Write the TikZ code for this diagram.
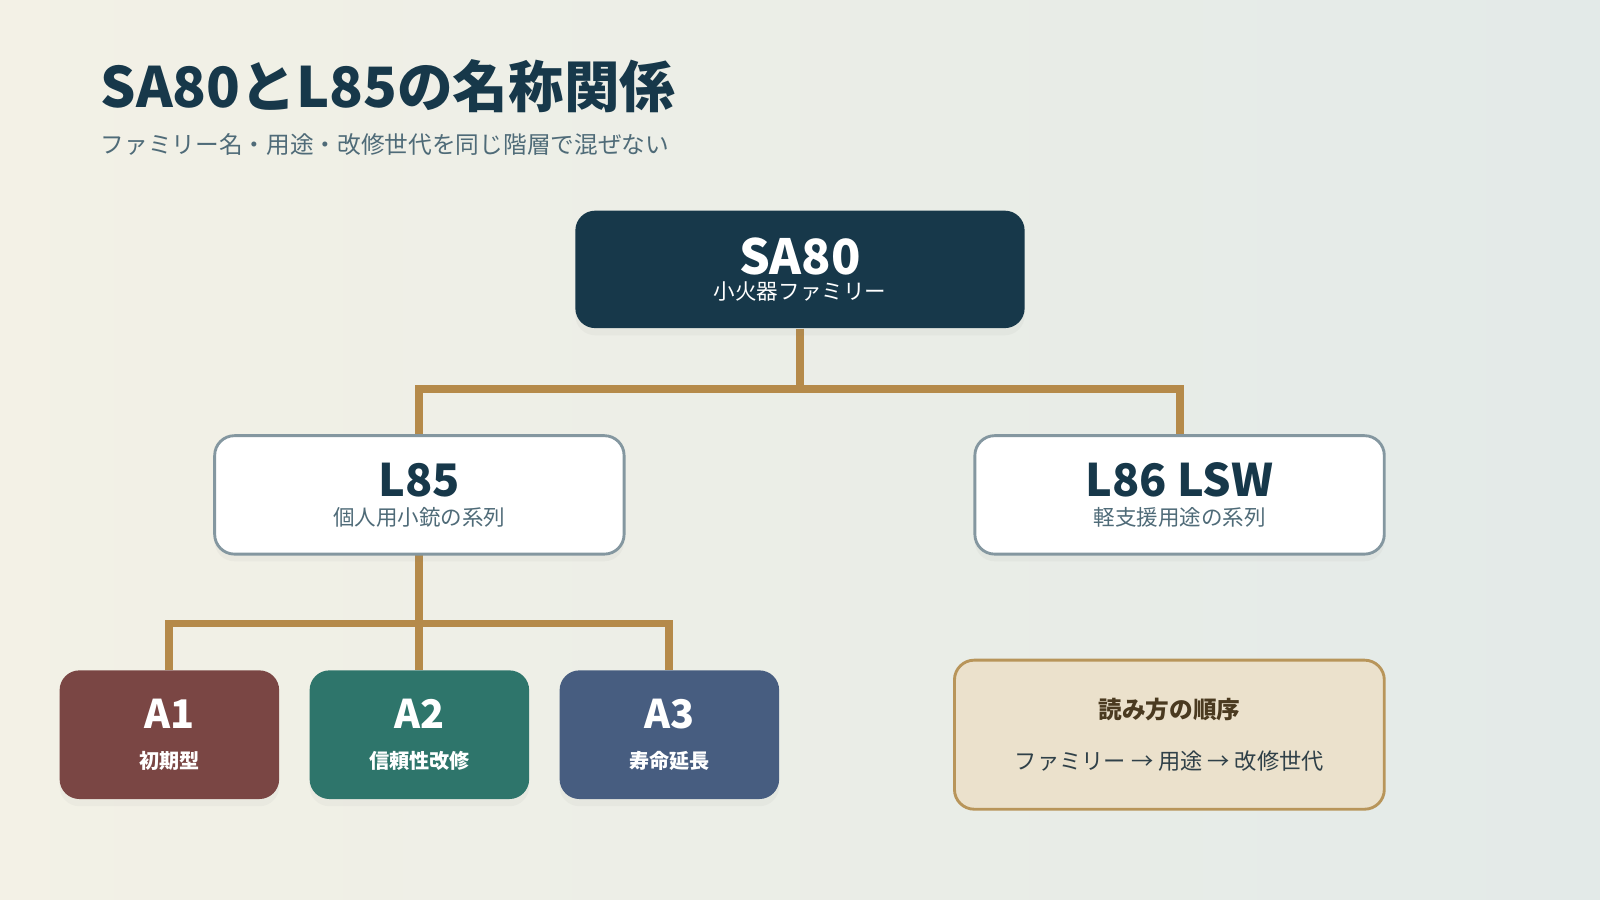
\documentclass[tikz,border=0pt]{standalone}
\usepackage{fontspec}
\setmainfont{Noto Sans CJK JP}
\usetikzlibrary{shadows}
\definecolor{navy}{HTML}{17384A}
\definecolor{gold}{HTML}{B58A4A}
\definecolor{subgray}{HTML}{4F6B78}
\definecolor{redbox}{HTML}{7A4644}
\definecolor{greenbox}{HTML}{2E756B}
\definecolor{bluebox}{HTML}{475D80}
\definecolor{notefill}{HTML}{EBE1CC}
\definecolor{noteline}{HTML}{B8955A}
\definecolor{notetext}{HTML}{4A3A20}
\definecolor{bgleft}{HTML}{F3F1E6}
\definecolor{bgright}{HTML}{E3EAE8}
\tikzset{
  plain/.style={rounded corners=5.5pt, align=center, inner sep=0pt},
  box/.style={plain,
    drop shadow={opacity=0.06, shadow xshift=0pt, shadow yshift=-2pt}},
  top/.style={box, fill=navy, text=white, minimum width=4.40cm, minimum height=1.15cm},
  mid/.style={box, fill=white, draw=subgray!70, line width=0.8pt, text=navy,
    minimum width=4.01cm, minimum height=1.16cm},
  leaf/.style={box, text=white, minimum width=2.15cm, minimum height=1.26cm},
  link/.style={draw=gold, line width=2.2pt}
}
\begin{document}
\begin{tikzpicture}[x=0.01cm, y=-0.01cm]
  \shade[left color=bgleft, right color=bgright] (0,0) rectangle (1568,882);
  \useasboundingbox (0,0) rectangle (1568,882);
  % title
  \node[anchor=west, inner sep=0pt, text=navy, font=\bfseries\fontsize{15.5}{17}\selectfont] (title) at (98,84) {SA80とL85の名称関係};
  \node[anchor=west, inner sep=0pt, text=subgray, font=\fontsize{6.6}{8}\selectfont] (subtitle) at (98,142) {ファミリー名・用途・改修世代を同じ階層で混ぜない};
  % connectors
  \coordinate (hub) at (784,381);
  \coordinate (hubl) at (411,611);
  \coordinate (satop) at (784,322);
  \coordinate (l85top) at (411,427);
  \coordinate (l86top) at (1156,427);
  \coordinate (l85bot) at (411,543);
  \coordinate (a1top) at (166,657);
  \coordinate (a2top) at (411,657);
  \coordinate (a3top) at (656,657);
  \draw[link] (satop) -- (hub) -| (l85top);
  \draw[link] (hub) -| (l86top);
  \draw[link] (l85bot) -- (a2top);
  \draw[link] (a1top) |- (hubl) -| (a3top);
  % boxes
  \node[top] (sa) at (784,264) {{\bfseries\fontsize{13.5}{15}\selectfont SA80}\\[-5pt]{\fontsize{6}{7}\selectfont 小火器ファミリー}};
  \node[mid] (l85) at (411,485) {{\bfseries\fontsize{12.5}{14}\selectfont L85}\\[-4pt]{\fontsize{6}{7}\selectfont\color{subgray} 個人用小銃の系列}};
  \node[mid] (l86) at (1156,485) {{\bfseries\fontsize{12.5}{14}\selectfont L86 LSW}\\[-4pt]{\fontsize{6}{7}\selectfont\color{subgray} 軽支援用途の系列}};
  \node[leaf, fill=redbox] (a1) at (166,720) {{\bfseries\fontsize{11}{12}\selectfont A1}\\[-1pt]{\bfseries\fontsize{5.6}{7}\selectfont 初期型}};
  \node[leaf, fill=greenbox] (a2) at (411,720) {{\bfseries\fontsize{11}{12}\selectfont A2}\\[-1pt]{\bfseries\fontsize{5.6}{7}\selectfont 信頼性改修}};
  \node[leaf, fill=bluebox] (a3) at (656,720) {{\bfseries\fontsize{11}{12}\selectfont A3}\\[-1pt]{\bfseries\fontsize{5.6}{7}\selectfont 寿命延長}};
  \node[plain, fill=notefill, draw=noteline, line width=0.8pt, text=notetext,
    minimum width=4.21cm, minimum height=1.46cm] (note) at (1146,720)
    {{\bfseries\fontsize{6.6}{8}\selectfont 読み方の順序}\\[2pt]{\fontsize{6.2}{8}\selectfont\color{subgray!60!black} ファミリー → 用途 → 改修世代}};
\end{tikzpicture}
\end{document}
